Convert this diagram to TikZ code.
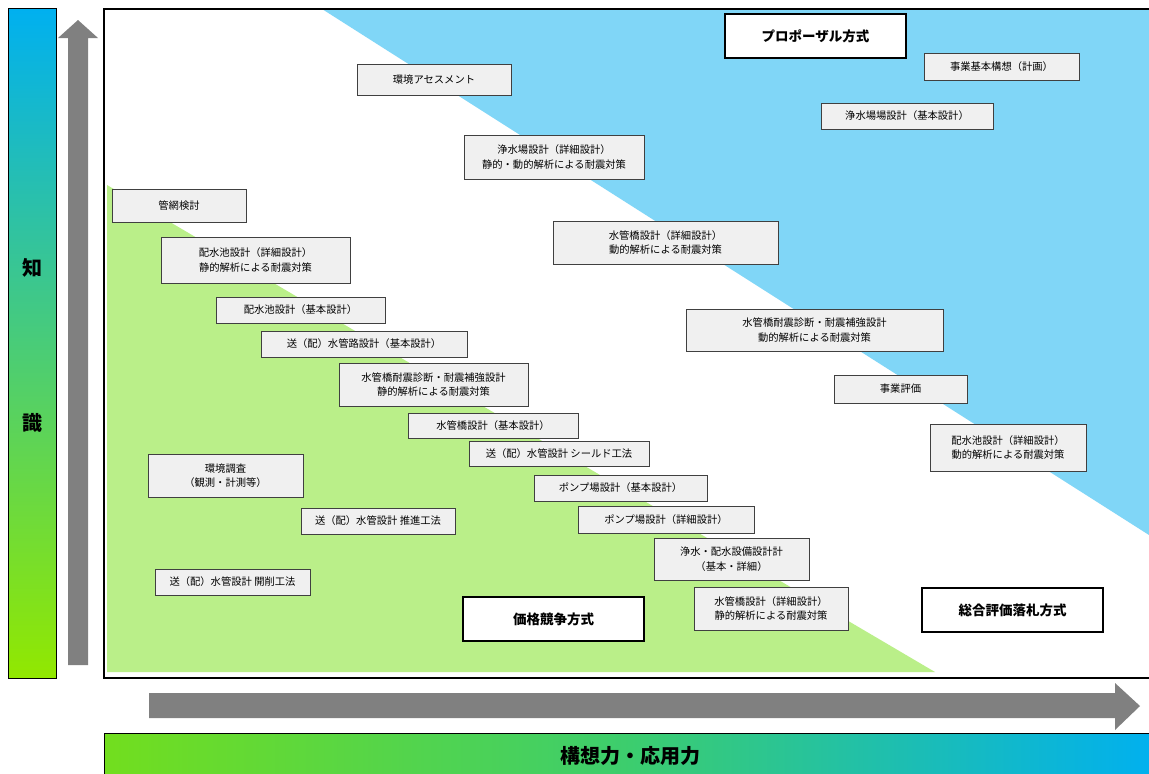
\documentclass[tikz,border=0pt]{standalone}
\usepackage{fontspec}
\setmainfont{Noto Sans CJK JP}
\begin{document}
\begin{tikzpicture}[x=1pt,y=-1pt,
  item/.style={draw=black!75, fill=black!6, line width=0.9pt, align=center, inner sep=0pt,
    font=\fontsize{10.3}{14.5}\selectfont},
  method/.style={draw=black, fill=white, line width=1.8pt, inner sep=0pt,
    font=\fontsize{13.5}{16}\selectfont\bfseries},
  garrow/.style={fill=black!50, draw=none}]
\useasboundingbox (0,0) rectangle (1149,774);
% frame background and regions
\fill[white] (104,9) rectangle (1149,678);
\fill[fill={rgb,255:red,128;green,214;blue,247}] (322,9) -- (1149,9) -- (1149,535) -- cycle;
\fill[fill={rgb,255:red,186;green,239;blue,137}] (107,185) -- (935,672) -- (107,672) -- cycle;
\draw[line width=1.6pt] (1155,9) -- (104,9) -- (104,678) -- (1155,678);
% left bar
\node[draw=black, line width=0.8pt, minimum width=48, minimum height=670, inner sep=0pt,
  top color={rgb,255:red,0;green,176;blue,240}, middle color={rgb,255:red,46;green,196;blue,150},
  bottom color={rgb,255:red,146;green,232;blue,0}] (kbar) at (32,343) {};
\node[font=\fontsize{20}{20}\selectfont\bfseries] (k1) at (32,268) {知};
\node[font=\fontsize{20}{20}\selectfont\bfseries] (k2) at (32,423) {識};
% up arrow
\fill[garrow] (68,665) -- (68,38) -- (58,38) -- (78,20) -- (98,38) -- (88,38) -- (88,665) -- cycle;
% right arrow
\fill[garrow] (149,693) -- (1115,693) -- (1115,683) -- (1140,706) -- (1115,730) -- (1115,718) -- (149,718) -- cycle;
% bottom bar
\node[draw=black, line width=0.8pt, minimum width=1052, minimum height=42, inner sep=0pt, anchor=north west,
  left color={rgb,255:red,114;green,222;blue,30}, right color={rgb,255:red,0;green,176;blue,240},
  middle color={rgb,255:red,60;green,205;blue,110}] (abar) at (104,733) {};
\node[font=\fontsize{20}{20}\selectfont\bfseries] (atext) at (630,756) {構想力・応用力};
% method labels
\node[method, minimum width=181, minimum height=44] (m1) at (815.5,36) {プロポーザル方式};
\node[method, minimum width=181, minimum height=44] (m2) at (553.5,619) {価格競争方式};
\node[method, minimum width=181, minimum height=44] (m3) at (1012.5,610) {総合評価落札方式};
% items
\node[item, minimum width=154, minimum height=31] (b1) at (434,79.5) {環境アセスメント};
\node[item, minimum width=180, minimum height=44] (b2) at (554,157) {浄水場設計（詳細設計）\\静的・動的解析による耐震対策};
\node[item, minimum width=134, minimum height=33] (b3) at (179,205.5) {管網検討};
\node[item, minimum width=189, minimum height=46] (b4) at (255.5,260) {配水池設計（詳細設計）\\静的解析による耐震対策};
\node[item, minimum width=225, minimum height=43] (b5) at (665.5,242.5) {水管橋設計（詳細設計）\\動的解析による耐震対策};
\node[item, minimum width=169, minimum height=26] (b6) at (300.5,310) {配水池設計（基本設計）};
\node[item, minimum width=206, minimum height=26] (b7) at (364,344) {送（配）水管路設計（基本設計）};
\node[item, minimum width=189, minimum height=43] (b8) at (433.5,384.5) {水管橋耐震診断・耐震補強設計\\静的解析による耐震対策};
\node[item, minimum width=257, minimum height=42] (b9) at (814.5,330) {水管橋耐震診断・耐震補強設計\\動的解析による耐震対策};
\node[item, minimum width=133, minimum height=28] (b10) at (900.5,389) {事業評価};
\node[item, minimum width=170, minimum height=25] (b11) at (493,425.5) {水管橋設計（基本設計）};
\node[item, minimum width=180, minimum height=25] (b12) at (559,453.5) {送（配）水管設計\ シールド工法};
\node[item, minimum width=156, minimum height=47] (b13) at (1008,447.5) {配水池設計（詳細設計）\\動的解析による耐震対策};
\node[item, minimum width=155, minimum height=43] (b14) at (225.5,475.5) {環境調査\\（観測・計測等）};
\node[item, minimum width=173, minimum height=26] (b15) at (620.5,488) {ポンプ場設計（基本設計）};
\node[item, minimum width=154, minimum height=26] (b16) at (378,521) {送（配）水管設計\ 推進工法};
\node[item, minimum width=176, minimum height=27] (b17) at (666,519.5) {ポンプ場設計（詳細設計）};
\node[item, minimum width=155, minimum height=42] (b18) at (731.5,559) {浄水・配水設備設計計\\（基本・詳細）};
\node[item, minimum width=155, minimum height=26] (b19) at (232.5,582) {送（配）水管設計\ 開削工法};
\node[item, minimum width=154, minimum height=43] (b20) at (771,608.5) {水管橋設計（詳細設計）\\静的解析による耐震対策};
\node[item, minimum width=155, minimum height=27] (b21) at (1001.5,66.5) {事業基本構想（計画）};
\node[item, minimum width=172, minimum height=26] (b22) at (907,116) {浄水場場設計（基本設計）};
\end{tikzpicture}
\end{document}
